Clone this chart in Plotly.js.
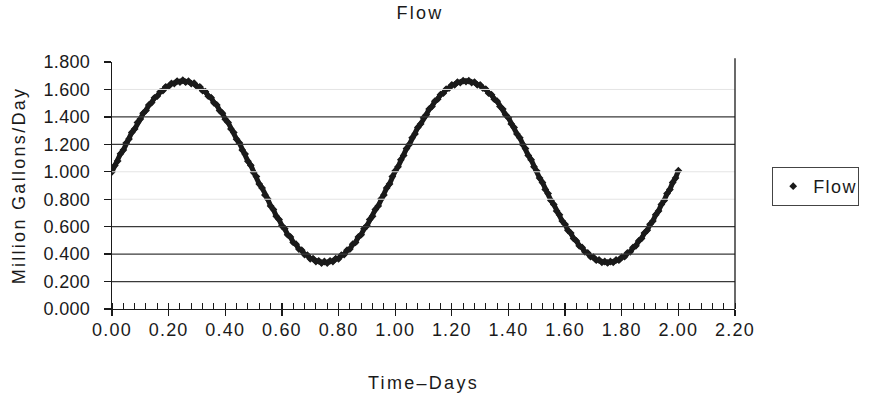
<!DOCTYPE html>
<html>
<head>
<meta charset="utf-8">
<script src="https://cdn.plot.ly/plotly-3.0.1.min.js"></script>
<style>
html,body{margin:0;padding:0;background:#fff;}
/* the labels on this sheet are set with open tracking */
#chart .gtitle, #chart .xtitle, #chart .ytitle { letter-spacing: 2.3px; }
#chart .legendtext { letter-spacing: 1.4px; }
#chart .xtick text { letter-spacing: 1.2px; }
#chart .ytick text { letter-spacing: 0.3px; }
</style>
</head>
<body>
<div id="chart" style="width:870px;height:402px;"></div>
<script>
// Time in days, sampled every 0.01 day
const timeDays = [
  0.00,0.01,0.02,0.03,0.04,0.05,0.06,0.07,0.08,0.09,
  0.10,0.11,0.12,0.13,0.14,0.15,0.16,0.17,0.18,0.19,
  0.20,0.21,0.22,0.23,0.24,0.25,0.26,0.27,0.28,0.29,
  0.30,0.31,0.32,0.33,0.34,0.35,0.36,0.37,0.38,0.39,
  0.40,0.41,0.42,0.43,0.44,0.45,0.46,0.47,0.48,0.49,
  0.50,0.51,0.52,0.53,0.54,0.55,0.56,0.57,0.58,0.59,
  0.60,0.61,0.62,0.63,0.64,0.65,0.66,0.67,0.68,0.69,
  0.70,0.71,0.72,0.73,0.74,0.75,0.76,0.77,0.78,0.79,
  0.80,0.81,0.82,0.83,0.84,0.85,0.86,0.87,0.88,0.89,
  0.90,0.91,0.92,0.93,0.94,0.95,0.96,0.97,0.98,0.99,
  1.00,1.01,1.02,1.03,1.04,1.05,1.06,1.07,1.08,1.09,
  1.10,1.11,1.12,1.13,1.14,1.15,1.16,1.17,1.18,1.19,
  1.20,1.21,1.22,1.23,1.24,1.25,1.26,1.27,1.28,1.29,
  1.30,1.31,1.32,1.33,1.34,1.35,1.36,1.37,1.38,1.39,
  1.40,1.41,1.42,1.43,1.44,1.45,1.46,1.47,1.48,1.49,
  1.50,1.51,1.52,1.53,1.54,1.55,1.56,1.57,1.58,1.59,
  1.60,1.61,1.62,1.63,1.64,1.65,1.66,1.67,1.68,1.69,
  1.70,1.71,1.72,1.73,1.74,1.75,1.76,1.77,1.78,1.79,
  1.80,1.81,1.82,1.83,1.84,1.85,1.86,1.87,1.88,1.89,
  1.90,1.91,1.92,1.93,1.94,1.95,1.96,1.97,1.98,1.99,
  2.00
];

// Flow in million gallons per day
const flowMGD = [
  1.000,1.046,1.078,1.131,1.158,1.209,1.238,1.287,1.312,1.359,
  1.384,1.426,1.447,1.486,1.504,1.539,1.552,1.583,1.592,1.619,
  1.623,1.644,1.643,1.661,1.654,1.667,1.653,1.660,1.642,1.645,
  1.622,1.619,1.591,1.584,1.551,1.540,1.503,1.487,1.446,1.427,
  1.382,1.360,1.312,1.287,1.237,1.210,1.158,1.130,1.077,1.047,
  0.994,0.965,0.911,0.882,0.830,0.802,0.751,0.725,0.676,0.652,
  0.606,0.585,0.542,0.525,0.485,0.472,0.437,0.428,0.397,0.392,
  0.366,0.367,0.346,0.351,0.335,0.346,0.335,0.351,0.346,0.367,
  0.366,0.392,0.397,0.428,0.437,0.472,0.485,0.525,0.542,0.585,
  0.606,0.652,0.676,0.725,0.751,0.802,0.830,0.882,0.911,0.965,
  1.006,1.036,1.088,1.119,1.169,1.199,1.248,1.276,1.323,1.349,
  1.393,1.416,1.457,1.476,1.514,1.529,1.562,1.573,1.602,1.609,
  1.633,1.634,1.653,1.650,1.664,1.657,1.664,1.650,1.653,1.634,
  1.633,1.609,1.602,1.573,1.562,1.529,1.514,1.476,1.457,1.416,
  1.393,1.349,1.323,1.276,1.248,1.199,1.169,1.119,1.088,1.036,
  1.005,0.954,0.922,0.871,0.841,0.791,0.762,0.714,0.687,0.641,
  0.617,0.574,0.553,0.514,0.496,0.461,0.448,0.417,0.408,0.381,
  0.377,0.356,0.357,0.340,0.346,0.336,0.346,0.340,0.357,0.356,
  0.377,0.381,0.408,0.417,0.448,0.461,0.496,0.514,0.553,0.574,
  0.617,0.641,0.687,0.714,0.762,0.791,0.841,0.871,0.922,0.954,
  1.008
];

// Horizontal rules: strong ones and washed-out ones
const gridStrong = [0.2, 0.4, 0.6, 1.2, 1.4];
const gridFaint = [0.8, 1.0, 1.6];

const ink = '#1a1a1a';
const font = 'Liberation Sans, Arial, sans-serif';

const shapes = [];
gridStrong.forEach(v => shapes.push({
  type: 'line', xref: 'paper', yref: 'y', x0: 0, x1: 1, y0: v, y1: v,
  line: {color: '#3a3a3a', width: 1.3}
}));
gridFaint.forEach(v => shapes.push({
  type: 'line', xref: 'paper', yref: 'y', x0: 0, x1: 1, y0: v, y1: v,
  line: {color: '#e4e4e4', width: 1}
}));
// right-hand frame edge
shapes.push({
  type: 'line', xref: 'paper', yref: 'paper', x0: 1, x1: 1, y0: 0, y1: 1.015,
  line: {color: ink, width: 1.3}
});

const traces = [
  {
    x: timeDays, y: flowMGD, type: 'scatter', mode: 'lines',
    line: {color: ink, width: 5}, showlegend: false, hoverinfo: 'skip'
  },
  {
    x: timeDays, y: flowMGD, type: 'scatter', mode: 'markers', name: 'Flow',
    marker: {symbol: 'diamond', size: 6, color: ink}
  }
];

const layout = {
  width: 870, height: 402,
  margin: {l: 112, r: 134, t: 62, b: 93},
  paper_bgcolor: '#fff', plot_bgcolor: '#fff',
  font: {family: font, color: ink, size: 18},
  title: {
    text: 'Flow', font: {family: font, size: 18, color: ink},
    x: 420 / 870, xref: 'container', xanchor: 'center',
    y: 1 - 13 / 402, yref: 'container', yanchor: 'middle'
  },
  xaxis: {
    range: [0, 2.2], tick0: 0, dtick: 0.2, tickformat: '.2f',
    showgrid: false, zeroline: false,
    showline: true, linecolor: ink, linewidth: 1.3,
    ticks: 'outside', ticklen: 6, tickwidth: 1.3, tickcolor: ink,
    ticklabelstandoff: -2,
    minor: {dtick: 0.04, ticks: 'inside', ticklen: 6, tickwidth: 1, tickcolor: ink, showgrid: false},
    tickfont: {family: font, size: 18, color: ink},
    title: {text: 'Time–Days', font: {family: font, size: 18, color: ink}, standoff: 37}
  },
  xaxis2: {
    overlaying: 'x', matches: 'x', range: [0, 2.2], tick0: 0, dtick: 0.2,
    showgrid: false, zeroline: false, showticklabels: false,
    ticks: 'inside', ticklen: 6, tickwidth: 1.3, tickcolor: ink, side: 'bottom'
  },
  yaxis: {
    range: [0, 1.8], tick0: 0, dtick: 0.2, tickformat: '.3f',
    showgrid: false, zeroline: false,
    showline: true, linecolor: ink, linewidth: 1.3,
    ticks: 'outside', ticklen: 7, tickwidth: 1.3, tickcolor: ink,
    ticklabelstandoff: 10,
    tickfont: {family: font, size: 18, color: ink},
    title: {text: 'Million Gallons/Day', font: {family: font, size: 18, color: ink}, standoff: 14}
  },
  legend: {
    x: 1.058, xanchor: 'left', y: 0.575, yanchor: 'top',
    bordercolor: '#444', borderwidth: 1, bgcolor: '#fff',
    font: {family: font, size: 18, color: ink},
    itemwidth: 30
  },
  shapes: shapes
};

// invisible trace to bring the overlay axis into being
traces.push({x: [0], y: [0], xaxis: 'x2', yaxis: 'y', mode: 'markers',
  marker: {opacity: 0}, showlegend: false, hoverinfo: 'skip'});

Plotly.newPlot('chart', traces, layout, {displayModeBar: false, staticPlot: true});
</script>
</body>
</html>
